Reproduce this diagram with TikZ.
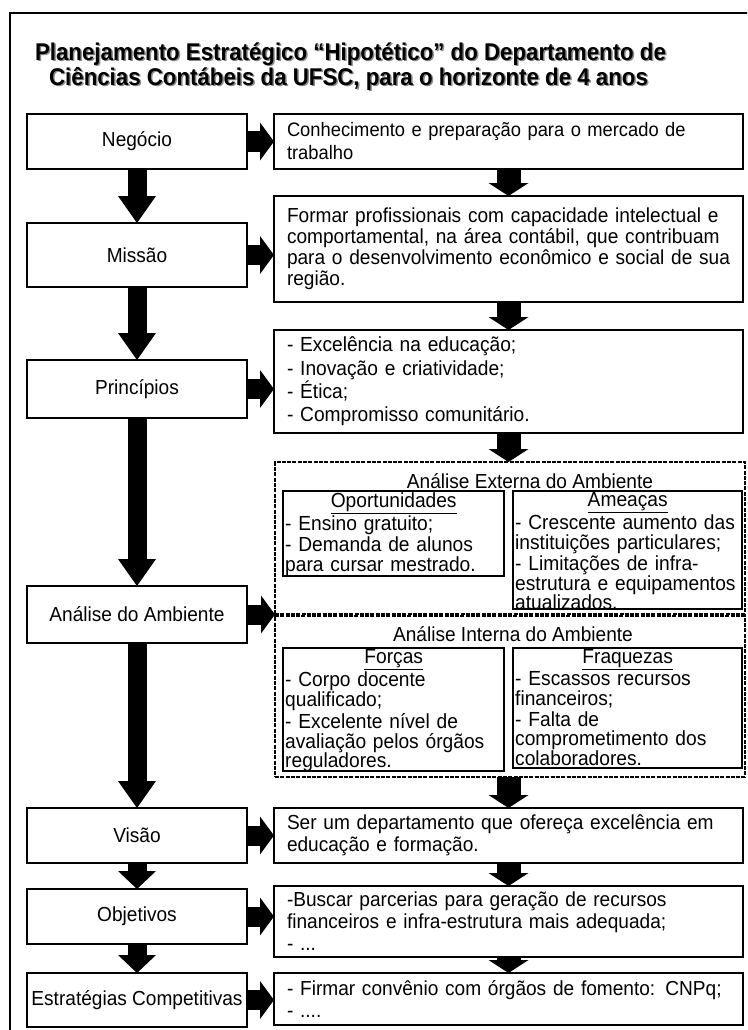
\documentclass[tikz,border=0pt]{standalone}
\usepackage{fontspec}
\setmainfont{Liberation Sans}[FakeStretch=0.94]
\newfontfamily\titlefamily{Liberation Sans}[FakeStretch=0.92]
\usetikzlibrary{arrows.meta}
\newcommand\bodyfont{\fontsize{20.3}{22}\selectfont}
\newcommand\headfont{\titlefamily\fontsize{24.2}{25}\selectfont\bfseries}

\begin{document}
\begin{tikzpicture}[x=1pt,y=-1pt,
  leftbox/.style={draw, line width=1.3pt, minimum width=220pt, inner sep=0pt, outer sep=0pt, font=\bodyfont},
  rightbox/.style={draw, line width=1.3pt, text width=443pt, inner xsep=13pt, inner ysep=0pt, outer sep=0pt, align=left, font=\bodyfont},
  swotframe/.style={draw, line width=1.3pt, inner sep=0pt, outer sep=0pt},
  swottext/.style={anchor=north west, inner sep=0pt, align=left, font=\fontsize{20.4}{19.6}\selectfont},
  envbox/.style={draw, line width=2.8pt, dash pattern=on 4pt off 1.3pt, minimum width=470pt, inner sep=0pt, outer sep=0pt},
  titletext/.style={font=\headfont, anchor=base, inner sep=0pt},
  longdown/.style={line width=19pt, -{Triangle[length=27pt,width=38pt,line width=0pt]}},
  shortdown/.style={line width=19pt, -{Triangle[length=18pt,width=38pt,line width=0pt]}},
  rightdown/.style={line width=24pt, -{Triangle[length=13pt,width=40pt,line width=0pt]}},
  sideways/.style={line width=20pt, -{Triangle[length=14pt,width=38pt,line width=0pt]}},
]
\useasboundingbox (0,0) rectangle (747,1030);
\clip (0,0) rectangle (747,1030);

% outer frame (runs past the page on the right and at the bottom)
\draw[line width=1.8pt] (10,13) rectangle (800,1070);

% title with its drop shadow
\node[titletext, text=black!45] (t1s) at (352,62) {Planejamento Estratégico “Hipotético” do Departamento de};
\node[titletext, text=black!45] (t2s) at (350,87) {Ciências Contábeis da UFSC, para o horizonte de 4 anos};
\node[titletext] (t1) at (350.5,60.5) {Planejamento Estratégico “Hipotético” do Departamento de};
\node[titletext] (t2) at (348.5,85.5) {Ciências Contábeis da UFSC, para o horizonte de 4 anos};

% left column: the stages of the plan
\node[leftbox, minimum height=55pt] (neg) at (137,141.5) {Negócio};
\node[leftbox, minimum height=64pt] (mis) at (137,255) {Missão};
\node[leftbox, minimum height=58pt] (pri) at (137,389) {Princípios};
\node[leftbox, minimum height=57pt] (ana) at (137,614.5) {Análise do Ambiente};
\node[leftbox, minimum height=55pt] (vis) at (137,835.5) {Visão};
\node[leftbox, minimum height=55pt] (obj) at (137,916.5) {Objetivos};
\node[leftbox, minimum height=54pt] (est) at (137,1000) {Estratégias Competitivas};

% right column: content of each stage
\node[rightbox, minimum height=55pt, font=\fontsize{19.5}{23}\selectfont] (r1) at (508.5,141.5)
  {Conhecimento e preparação para o mercado de\\trabalho};
\node[rightbox, minimum height=106pt, font=\fontsize{20.3}{21}\selectfont] (r2) at (508.5,249)
  {\makebox[440pt][s]{Formar profissionais com capacidade intelectual e}\\
   \makebox[440pt][s]{comportamental, na área contábil, que contribuam}\\
   \makebox[440pt][s]{para o desenvolvimento econômico e social de sua}\\
   região.};
\node[rightbox, minimum height=103pt, font=\fontsize{20.4}{23.3}\selectfont] (r3) at (508.5,381.5)
  {- Excelência na educação;\\- Inovação e criatividade;\\- Ética;\\- Compromisso comunitário.};

% environment analysis: external and internal
\node[envbox, minimum height=152pt] (ext) at (510,538) {};
\node[envbox, minimum height=161pt] (int) at (510,696.5) {};
\node[font=\bodyfont, inner sep=0pt, anchor=base] (extt) at (530,488) {Análise Externa do Ambiente};
\node[font=\bodyfont, inner sep=0pt, anchor=base] (intt) at (513,641) {Análise Interna do Ambiente};

% opportunities and threats
\node[swotframe, minimum width=221pt, minimum height=85pt] (opo) at (393.5,533.5) {};
\node[swottext, text width=217pt] (opot) at ([xshift=2pt,yshift=-1.5pt]opo.north west)
  {\makebox[217pt]{\underline{Oportunidades}}\\[1pt]
   - Ensino gratuito;\\[1.5pt]
   - Demanda de alunos\\
   para cursar mestrado.};
\node[swotframe, minimum width=229pt, minimum height=118pt] (ame) at (627.5,550) {};
\node[swottext, text width=225pt] (amet) at ([xshift=2pt,yshift=-1.5pt]ame.north west)
  {\makebox[225pt]{\underline{Ameaças}}\\[1pt]
   - Crescente aumento das\\
   instituições particulares;\\[1.5pt]
   - Limitações de infra-\\
   estrutura e equipamentos\\
   atualizados.};

% strengths and weaknesses
\node[swotframe, minimum width=221pt, minimum height=123pt] (for) at (393.5,709.5) {};
\node[swottext, text width=217pt] (fort) at ([xshift=2pt,yshift=-1.5pt]for.north west)
  {\makebox[217pt]{\underline{Forças}}\\[1pt]
   - Corpo docente\\
   qualificado;\\[2.5pt]
   - Excelente nível de\\
   avaliação pelos órgãos\\
   reguladores.};
\node[swotframe, minimum width=229pt, minimum height=120pt] (fra) at (627.5,708) {};
\node[swottext, text width=225pt] (frat) at ([xshift=2pt,yshift=-1pt]fra.north west)
  {\makebox[225pt]{\underline{Fraquezas}}\\[1pt]
   - Escassos recursos\\
   financeiros;\\[1.5pt]
   - Falta de\\
   comprometimento dos\\
   colaboradores.};

\node[rightbox, minimum height=55pt] (r5) at (508.5,835.5)
  {Ser um departamento que ofereça excelência em\\educação e formação.};
\node[rightbox, minimum height=71pt] (r6) at (508.5,921.5)
  {-Buscar parcerias para geração de recursos\\financeiros e infra-estrutura mais adequada;\\- ...};
\node[rightbox, minimum height=52pt] (r7) at (508.5,999)
  {- Firmar convênio com órgãos de fomento: CNPq;\\- ....};

% flow down the left column
\draw[longdown] (neg.south) -- (mis.north);
\draw[longdown] (mis.south) -- (pri.north);
\draw[longdown] (pri.south) -- (ana.north);
\draw[longdown] (ana.south) -- (vis.north);
\draw[shortdown] (vis.south) -- (obj.north);
\draw[shortdown] (obj.south) -- (est.north);

% flow down the right column
\draw[rightdown] (r1.south) -- (r2.north);
\draw[rightdown] (r2.south) -- (r3.north);
\draw[rightdown] (r3.south) -- (r3.south |- ext.north);
\draw[rightdown] (r5.north |- int.south) -- (r5.north);
\draw[rightdown] (r5.south) -- (r6.north);
\draw[rightdown] (r6.south) -- (r7.north);

% each stage points to its content
\draw[sideways] (neg.east) -- (neg.east -| r1.west);
\draw[sideways] (mis.east) -- (mis.east -| r2.west);
\draw[sideways] (pri.east) -- (pri.east -| r3.west);
\draw[sideways] (ana.east) -- (ana.east -| ext.west);
\draw[sideways] (vis.east) -- (vis.east -| r5.west);
\draw[sideways] (obj.east) -- (obj.east -| r6.west);
\draw[sideways] (est.east) -- (est.east -| r7.west);
\end{tikzpicture}
\end{document}
